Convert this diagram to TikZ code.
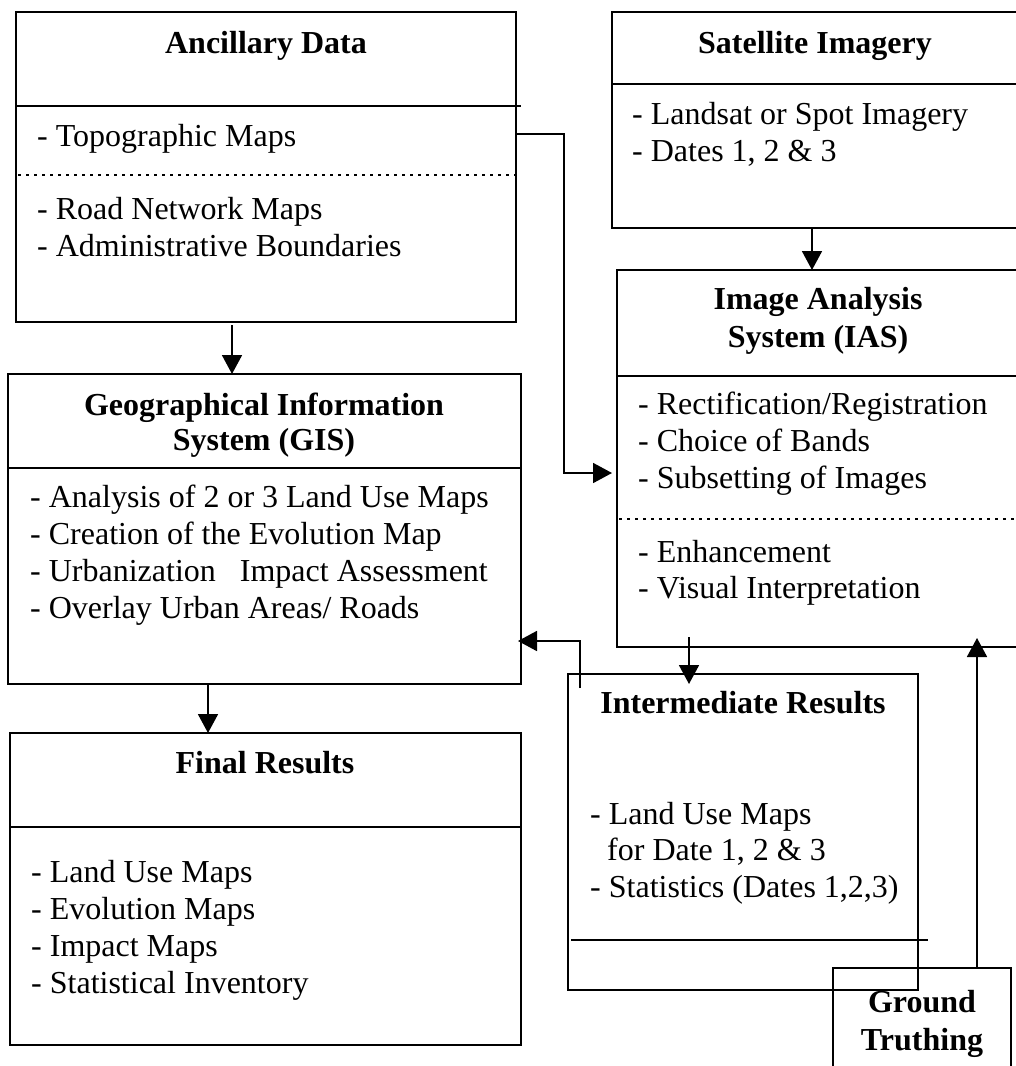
\documentclass[tikz,border=0pt]{standalone}
\usepackage{fontspec}
\setmainfont{Liberation Serif}
\usetikzlibrary{arrows.meta,calc}
\begin{document}
\begin{tikzpicture}[x=1pt,y=-1pt,
  box/.style={draw,line width=2pt,inner sep=0pt,outer sep=0pt,anchor=north west},
  hdr/.style={line width=2.8pt},
  dots/.style={line width=2.6pt,dash pattern=on 2.6pt off 5.4pt},
  arr/.style={line width=1.8pt,-{Triangle[length=19pt,width=20pt]}},
  txt/.style={anchor=base west,inner sep=0pt,font=\fontsize{32}{37}\selectfont},
  ttl/.style={anchor=base,inner sep=0pt,font=\fontsize{32}{37}\selectfont\bfseries}]
\clip (0,0) rectangle (1016,1066);
\fill[white] (0,0) rectangle (1016,1066);
% boxes
\node[box,minimum width=500pt,minimum height=310pt] (anc) at (16,12) {};
\node[box,minimum width=406pt,minimum height=216pt] (sat) at (612,12) {};
\node[box,minimum width=402pt,minimum height=377pt] (ias) at (617,270) {};
\node[box,minimum width=513pt,minimum height=310pt] (gis) at (8,374) {};
\node[box,minimum width=511pt,minimum height=312pt] (fin) at (10,733) {};
\node[box,minimum width=350pt,minimum height=316pt] (inter) at (568,674) {};
\node[box,minimum width=178pt,minimum height=112pt] (gnd) at (833,968) {};
% header and separator lines
\draw[hdr] (16,106) -- (521,106);
\draw[hdr] (612,84) -- (1019,84);
\draw[hdr] (617,376) -- (1019,376);
\draw[hdr] (8,468) -- (521,468);
\draw[hdr] (10,827) -- (521,827);
\draw[line width=2.4pt] (571,940) -- (928,940);
\draw[dots] (18,175) -- (516,175);
\draw[dots] (619,519) -- (1019,519);
% texts
\node[ttl] (ancT) at (266,53) {Ancillary Data};
\node[txt] (anc1) at (37,146) {- Topographic Maps};
\node[txt] (anc2) at (37,219) {- Road Network Maps};
\node[txt] (anc3) at (37,256) {- Administrative Boundaries};
\node[ttl] (satT) at (815,53) {Satellite Imagery};
\node[txt] (sat1) at (632,124) {- Landsat or Spot Imagery};
\node[txt] (sat2) at (632,161) {- Dates 1, 2 \& 3};
\node[ttl] (iasT1) at (818,309) {Image Analysis};
\node[ttl] (iasT2) at (818,347) {System (IAS)};
\node[txt] (ias1) at (638,414) {- Rectification/Registration};
\node[txt] (ias2) at (638,451) {- Choice of Bands};
\node[txt] (ias3) at (638,488) {- Subsetting of Images};
\node[txt] (ias4) at (638,562) {- Enhancement};
\node[txt] (ias5) at (638,598) {- Visual Interpretation};
\node[ttl] (gisT1) at (264,415) {Geographical Information};
\node[ttl] (gisT2) at (264,450) {System (GIS)};
\node[txt] (gis1) at (30,507) {- Analysis of 2 or 3 Land Use Maps};
\node[txt] (gis2) at (30,544) {- Creation of the Evolution Map};
\node[txt] (gis3) at (30,581) {- Urbanization\ \ \ Impact Assessment};
\node[txt] (gis4) at (30,618) {- Overlay Urban Areas/ Roads};
\node[ttl] (finT) at (265,773) {Final Results};
\node[txt] (fin1) at (31,882) {- Land Use Maps};
\node[txt] (fin2) at (31,919) {- Evolution Maps};
\node[txt] (fin3) at (31,956) {- Impact Maps};
\node[txt] (fin4) at (31,993) {- Statistical Inventory};
\node[ttl] (interT) at (743,713) {Intermediate Results};
\node[txt] (inter1) at (590,824) {- Land Use Maps};
\node[txt] (inter2) at (607,860) {for Date 1, 2 \& 3};
\node[txt] (inter3) at (590,897) {- Statistics (Dates 1,2,3)};
\node[ttl] (gndT1) at (922,1012) {Ground};
\node[ttl] (gndT2) at (922,1050) {Truthing};
% connectors
\draw[arr,shorten >=5pt] (anc.east |- 0,134) -- (564,134) |- (ias.west |- 0,473);
\draw[arr] (sat.south -| 812,0) -- (ias.north -| 812,0);
\draw[arr] ($(anc.south -| 232,0)+(0,3)$) -- (gis.north -| 232,0);
\draw[arr] (gis.south -| 208,0) -- (fin.north -| 208,0);
\draw[arr] ($(ias.south -| 689,0)+(0,-10)$) -- ($(inter.north -| 689,0)+(0,10)$);
\draw[arr] ($(inter.north -| 580,0)+(0,14)$) |- ($(gis.east |- 0,641)+(-3,0)$);
\draw[arr] (gnd.north -| 977,0) -- ($(ias.south -| 977,0)+(0,-9)$);
\end{tikzpicture}
\end{document}
